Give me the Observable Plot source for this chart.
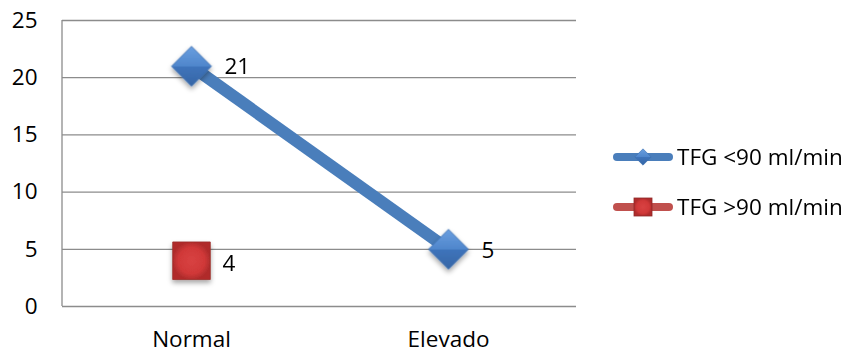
<!DOCTYPE html>
<html>
<head>
<meta charset="utf-8">
<script src="https://cdn.jsdelivr.net/npm/d3@7"></script>
<script src="https://cdn.jsdelivr.net/npm/@observablehq/plot@0.6"></script>
<style>
  html, body { margin: 0; padding: 0; background: #fff; }
  #chart { position: relative; width: 851px; height: 354px; }
</style>
</head>
<body>
<div id="chart"></div>
<script>
// Categories and series
const categories = ["Normal", "Elevado"];
const seriesNames = ["TFG <90 ml/min", "TFG >90 ml/min"];
const below90 = [21, 5];
const above90 = [4, null];
const yTicks = [0, 5, 10, 15, 20, 25];

const blue = "#4a7ebb";
const red = "#c0504d";
const fontFamily = "'Open Sans', Lato, sans-serif";
const fs = 22.5;

const rowsBelow = categories.map((c, i) => ({category: c, value: below90[i]}));
const rowsAbove = categories.map((c, i) => ({category: c, value: above90[i]}))
  .filter(d => d.value != null);

const chart = Plot.plot({
  width: 851,
  height: 354,
  marginLeft: 62,
  marginRight: 275,
  marginTop: 20,
  marginBottom: 48,
  style: {fontFamily, color: "#000", background: "#fff"},
  x: {type: "point", domain: categories, padding: 0.5, label: null},
  y: {domain: [0, 25], ticks: yTicks, label: null},
  marks: [
    Plot.ruleY(yTicks, {stroke: "#8c8c8c", strokeWidth: 1.3, strokeOpacity: 1}),
    Plot.axisY({ticks: yTicks, tickSize: 0, tickPadding: 25, fontSize: fs, label: null}),
    Plot.axisX({tickSize: 0, tickPadding: 25, fontSize: fs, label: null}),
    Plot.line(rowsBelow, {x: "category", y: "value", stroke: blue, strokeWidth: 12, strokeLinecap: "butt"}),
    Plot.dot(rowsBelow, {x: "category", y: "value", symbol: "diamond2", r: 18, fill: "url(#gradBlue)", stroke: "#3d6fae", strokeWidth: 0.8}),
    Plot.dot(rowsAbove, {x: "category", y: "value", symbol: "square", r: 21.2, fill: "url(#gradRed)", stroke: "#9b2f2c", strokeWidth: 0.8}),
    Plot.text(rowsBelow, {x: "category", y: "value", text: d => String(d.value), dx: 33, dy: 1, textAnchor: "start", fontSize: fs, fill: "#000"}),
    Plot.text(rowsAbove, {x: "category", y: "value", text: d => String(d.value), dx: 31, dy: 3, textAnchor: "start", fontSize: fs, fill: "#000"})
  ]
});

const svg = d3.select(chart);
const defs = svg.insert("defs", ":first-child");

const gb = defs.append("linearGradient").attr("id", "gradBlue").attr("x1", 0).attr("y1", 0).attr("x2", 0).attr("y2", 1);
gb.append("stop").attr("offset", "0%").attr("stop-color", "#6a9fe0");
gb.append("stop").attr("offset", "50%").attr("stop-color", "#4f86cc");
gb.append("stop").attr("offset", "51%").attr("stop-color", "#3f74bb");
gb.append("stop").attr("offset", "100%").attr("stop-color", "#3566a6");

const gr = defs.append("radialGradient").attr("id", "gradRed");
gr.append("stop").attr("offset", "0%").attr("stop-color", "#d84242");
gr.append("stop").attr("offset", "70%").attr("stop-color", "#d03838");
gr.append("stop").attr("offset", "100%").attr("stop-color", "#b02c2c");

const sh = defs.append("filter").attr("id", "shadow").attr("x", "-50%").attr("y", "-50%").attr("width", "200%").attr("height", "200%");
sh.append("feDropShadow").attr("dx", 0).attr("dy", 3).attr("stdDeviation", 2.5).attr("flood-color", "#000").attr("flood-opacity", 0.35);
svg.selectAll("g[aria-label=dot]").attr("filter", "url(#shadow)");

// Left axis line along the plot frame
const ys = chart.scale("y");
svg.append("line")
  .attr("x1", 62).attr("x2", 62)
  .attr("y1", ys.apply(0)).attr("y2", ys.apply(25))
  .attr("stroke", "#8c8c8c").attr("stroke-width", 1.3);

// Legend
const legend = svg.append("g");
const legendItems = [
  {name: seriesNames[0], color: blue, kind: "diamond", y: 157},
  {name: seriesNames[1], color: red, kind: "square", y: 207}
];
legendItems.forEach(it => {
  const g = legend.append("g");
  g.append("line").attr("x1", 617).attr("x2", 669).attr("y1", it.y).attr("y2", it.y)
    .attr("stroke", it.color).attr("stroke-width", 8).attr("stroke-linecap", "round");
  if (it.kind === "diamond") {
    g.append("path").attr("d", d3.symbol(d3.symbolDiamond2, 170)())
      .attr("transform", `translate(643,${it.y})`)
      .attr("fill", "url(#gradBlue)").attr("stroke", "#3d6fae").attr("stroke-width", 0.6);
  } else {
    g.append("rect").attr("x", 634).attr("y", it.y - 9).attr("width", 18).attr("height", 18)
      .attr("fill", "url(#gradRed)").attr("stroke", "#8f2a28").attr("stroke-width", 0.8);
  }
  g.append("text")
    .attr("x", 677).attr("y", it.y).attr("dy", "0.35em")
    .attr("text-anchor", "start")
    .attr("font-size", 22.5)
    .attr("font-family", fontFamily)
    .attr("fill", "#000")
    .text(it.name);
});

document.getElementById("chart").appendChild(chart);
</script>
</body>
</html>
